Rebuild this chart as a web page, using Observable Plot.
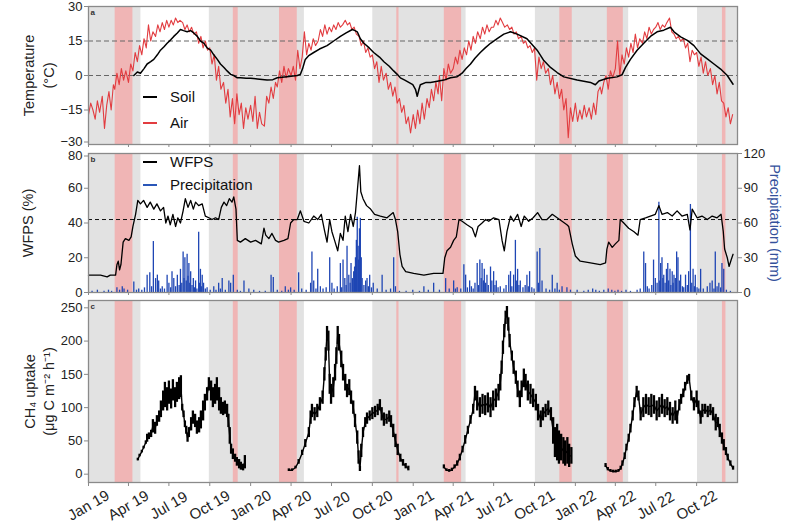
<!DOCTYPE html>
<html><head><meta charset="utf-8">
<script src="https://cdn.jsdelivr.net/npm/d3@7"></script>
<script src="https://cdn.jsdelivr.net/npm/@observablehq/plot@0.6"></script>
<style>
body{margin:0;background:#fff;font-family:"Liberation Sans",Arial,sans-serif;}
#wrap{position:relative;width:800px;height:530px;overflow:hidden;background:#fff;}
.leg{position:absolute;font-size:15px;color:#111;line-height:1;white-space:nowrap;}
.legline{position:absolute;height:0;border-top-style:solid;}
</style></head><body><div id="wrap"></div>
<script>
// ---------- DATA ----------
const grayStart = ["2019-01-01","2019-09-30","2020-10-02","2021-10-03","2022-10-03"];
const grayEnd   = ["2019-04-29","2020-05-01","2021-04-30","2022-05-01","2023-01-01"];
const pinkStart = ["2019-03-02","2019-11-23","2020-03-06","2020-11-25","2021-03-12","2021-11-27","2022-03-14","2022-11-28"];
const pinkEnd   = ["2019-04-11","2019-12-04","2020-04-15","2020-11-30","2021-04-20","2021-12-25","2022-04-19","2022-12-06"];

const tickDates = ["2019-01-01","2019-04-01","2019-07-01","2019-10-01","2020-01-01","2020-04-01","2020-07-01","2020-10-01","2021-01-01","2021-04-01","2021-07-01","2021-10-01","2022-01-01","2022-04-01","2022-07-01","2022-10-01"];
const tickLabels = ["Jan 19","Apr 19","Jul 19","Oct 19","Jan 20","Apr 20","Jul 20","Oct 20","Jan 21","Apr 21","Jul 21","Oct 21","Jan 22","Apr 22","Jul 22","Oct 22"];

// air temperature (°C), 6 readings per month (days 1,6,11,16,21,26)
const air2019 = [-17,-12,-15,-19,-11,-16, -9,-23,-13,-7,-15,-4, -6,1,-4,3,-2,2, -3,5,2,10,6,13, 9,16,12,22,15,19, 17,22,19,23,20,24, 21,24,22,25,23,24, 23,20,22,19,21,18, 19,14,17,12,15,11, 12,5,9,-2,4,-6, -3,-12,-6,-18,-10,-21, -8,-17,-12,-23,-14,-19];
const air2020 = [-13,-20,-9,-23,-16,-21, -22,-9,-12,-5,-10,-3, -5,2,-3,4,-1,3, 0,4,-2,11,3,8, 19,9,14,11,16,13, 15,20,17,22,18,21, 19,22,20,23,21,22, 24,22,23,20,21,18, 17,13,15,10,12,8, 9,3,6,-3,4,-2, 1,-6,-3,-9,-5,-12, -10,-16,-13,-21,-18,-25];
const air2021 = [-17,-23,-15,-21,-12,-19, -10,-14,-6,-11,-3,-8, 0,-11,3,-2,5,1, 3,8,5,11,7,12, 9,15,11,17,14,19, 16,21,18,22,19,21, 21,24,22,25,23,21, 22,20,21,18,19,16, 17,14,15,12,13,10, 12,-2,8,3,6,1, 3,-4,0,-8,-3,-10, -6,-15,-10,-27,-14,-20];
const air2022 = [-12,-20,-15,-19,-13,-18, -14,-19,-12,-17,-7,-5, -8,-3,0,-6,2,-1, 3,15,0,9,5,12, 8,14,10,18,12,16, 14,19,16,21,18,20, 21,23,20,22,21,23, 25,19,18,16,17,15, 16,12,14,6,11,9, 10,4,8,1,6,0, 3,-4,0,-8,-3,-11, -12,-18,-14,-21,-17];

// soil temperature [day since 2019-01-01, °C]
const soil = [[102,0],[110,1.5],[117,1],[125,3],[132,5],[140,6],[147,7],[155,9],[162,11],[170,12.5],[177,14],[185,15.5],[192,17],[200,18.5],[207,20],[214,19.5],[222,19],[230,19.5],[237,18.5],[245,17],[252,15],[260,14],[267,12],[275,11],[282,9],[290,7],[297,5],[305,3.5],[312,2],[320,0.5],[327,0],[335,-1],[342,-1],[355,-1.2],[365,-1.2],[380,-1.5],[402,-2],[415,-1.8],[425,-1],[447,-0.5],[470,0],[477,0.5],[482,3],[488,7],[495,8.5],[507,10],[520,11.5],[537,13],[552,15],[567,17],[580,18.5],[594,20],[600,19.5],[605,19],[612,16],[620,14],[632,12],[642,10],[655,8],[665,6],[677,4],[687,2],[695,0.5],[702,-1],[712,-2],[721,-3],[730,-4],[736,-6],[740,-9],[744,-6],[747,-4],[760,-3],[770,-3],[785,-2.5],[800,-2],[815,-1],[830,-0.5],[841,1],[850,3],[860,5],[870,7.5],[882,10],[893,12],[905,14],[920,16],[935,18],[950,19],[965,18],[987,16],[1010,11],[1025,6.5],[1040,3.5],[1055,1.3],[1070,-0.6],[1100,-2],[1130,-3],[1141,-4],[1149,-2.4],[1168,-1.2],[1190,-0.6],[1201,0.3],[1209,3.5],[1220,7],[1235,11],[1250,14],[1265,17],[1280,19],[1295,19.7],[1310,21],[1318,19],[1333,16.8],[1348,15.3],[1363,13],[1378,9.4],[1393,7.2],[1408,5],[1423,2.8],[1438,0],[1451,-3.8]];

// WFPS (%) [day, value]
const wfps = [[0,10],[27,10],[42,9],[49,10],[61,10],[64,16],[67,18],[70,13],[73,16],[78,29],[83,31],[91,30],[96,32],[100,38],[106,45],[111,53],[117,51],[124,53],[132,49],[139,52],[147,48],[154,51],[162,47],[169,49],[174,40],[179,44],[184,39],[190,45],[196,38],[201,43],[207,40],[213,47],[218,54],[224,49],[230,53],[236,48],[241,52],[248,50],[256,51],[263,44],[271,43],[278,42],[286,43],[293,42],[299,49],[305,52],[311,50],[317,54],[323,52],[327,55],[332,48],[335,30],[342,29],[353,31],[365,29],[376,30],[389,28],[395,37],[399,33],[406,31],[413,34],[421,30],[428,29],[440,30],[449,31],[455,40],[462,42],[470,42],[477,47],[485,41],[496,40],[507,44],[516,42],[524,45],[531,36],[537,29],[543,42],[548,35],[554,30],[561,24],[567,34],[573,30],[578,44],[584,35],[590,45],[596,38],[601,46],[605,58],[610,73],[613,58],[618,54],[626,50],[635,48],[644,45],[657,44],[672,43],[686,46],[691,42],[696,35],[701,22],[706,15],[714,12],[732,11],[755,10],[777,11],[798,11],[802,20],[807,24],[815,26],[822,30],[828,32],[834,42],[841,41],[852,39],[864,37],[871,32],[877,38],[886,40],[894,42],[901,41],[912,43],[924,42],[931,30],[936,24],[942,35],[950,44],[957,41],[966,45],[974,38],[981,44],[991,41],[1001,43],[1011,46],[1021,42],[1032,42],[1044,45],[1055,43],[1066,41],[1077,39],[1081,38],[1089,28],[1096,21],[1107,18],[1130,17],[1152,16],[1164,17],[1167,25],[1171,29],[1179,26],[1186,28],[1194,30],[1197,42],[1205,40],[1216,37],[1228,35],[1237,33],[1242,42],[1254,43],[1265,44],[1276,45],[1284,50],[1291,45],[1303,46],[1314,44],[1325,47],[1336,44],[1348,45],[1354,36],[1359,48],[1370,43],[1381,44],[1393,42],[1404,44],[1415,43],[1424,45],[1429,35],[1432,25],[1438,20],[1442,15],[1447,19],[1451,22]];

// precipitation (mm) [day, mm]
const precip = [[8,1],[20,2],[35,1],[45,2],[52,1],[64,4],[70,2],[76,5],[80,3],[88,2],[102,9],[108,2],[113,3],[120,2],[126,4],[132,15],[138,17],[142,5],[146,44],[151,12],[155,15],[158,10],[162,3],[166,5],[171,3],[177,15],[181,8],[185,4],[188,18],[192,12],[196,5],[200,15],[204,6],[207,20],[210,8],[213,35],[215,12],[217,30],[220,10],[222,33],[224,14],[226,25],[228,8],[230,18],[233,6],[236,12],[239,4],[241,10],[244,3],[248,52],[250,8],[252,20],[254,5],[256,15],[259,8],[263,3],[267,4],[274,2],[282,5],[287,2],[293,8],[297,3],[301,12],[308,2],[316,10],[320,8],[326,15],[335,2],[342,1],[350,10],[361,3],
[372,2],[385,1],[398,1],[411,15],[416,13],[425,2],[435,1],[443,5],[450,2],[455,4],[463,2],[473,17],[480,3],[490,2],[500,8],[503,35],[507,10],[512,3],[516,20],[522,5],[528,3],[535,4],[543,30],[548,8],[553,3],[560,5],[567,25],[570,4],[573,28],[577,12],[580,6],[582,40],[586,15],[589,8],[591,25],[594,12],[597,18],[599,22],[601,30],[603,45],[605,65],[607,40],[608,28],[610,55],[612,64],[614,30],[616,12],[620,6],[624,10],[627,12],[630,5],[633,15],[637,4],[641,8],[650,3],[661,15],[670,2],[680,3],[687,30],[691,5],[700,1],[715,1],[730,2],
[745,1],[755,5],[765,2],[777,8],[790,2],[804,12],[812,3],[822,10],[826,3],[830,4],[838,3],[845,24],[849,15],[853,4],[858,10],[862,5],[866,3],[870,8],[875,25],[878,6],[881,28],[884,12],[886,25],[889,10],[891,20],[894,8],[897,15],[900,6],[905,22],[908,10],[912,18],[915,6],[918,10],[922,4],[927,5],[935,3],[940,6],[946,15],[950,18],[953,5],[957,15],[961,45],[964,10],[966,20],[969,6],[972,10],[978,4],[983,6],[987,15],[990,5],[993,18],[998,4],[1003,3],[1010,35],[1013,8],[1016,38],[1021,10],[1030,3],[1038,2],[1044,15],[1050,3],[1055,8],[1060,2],[1066,5],[1077,4],[1085,2],
[1100,2],[1115,1],[1125,2],[1135,3],[1142,2],[1150,1],[1160,2],[1170,3],[1178,2],[1185,1],[1192,2],[1200,1],[1210,2],[1220,1],[1235,2],[1242,3],[1250,35],[1254,25],[1258,5],[1262,3],[1268,6],[1272,28],[1276,12],[1280,8],[1284,78],[1286,10],[1288,25],[1291,30],[1293,12],[1295,15],[1298,8],[1301,20],[1304,25],[1306,10],[1309,20],[1311,6],[1314,18],[1316,8],[1318,15],[1321,12],[1324,35],[1327,30],[1330,10],[1333,15],[1337,5],[1340,4],[1344,15],[1348,6],[1351,18],[1355,76],[1358,8],[1361,20],[1364,5],[1366,15],[1370,4],[1374,3],[1378,20],[1384,3],[1393,5],[1399,8],[1404,10],[1408,3],[1411,35],[1415,5],[1419,8],[1423,4],[1426,25],[1430,20],[1436,2],[1445,1]];

// CH4 uptake (µg C m-2 h-1) per season [day, low, high]
const ch4_2019 = [[111,20,24],[115,26,30],[120,32,36],[124,38,42],[129,45,50],[132,48,60],[136,52,62],[141,55,66],[145,62,82],[150,60,78],[154,72,88],[159,78,95],[163,85,110],[168,95,125],[172,100,138],[177,95,130],[181,105,140],[186,98,128],[190,110,142],[195,100,130],[199,108,138],[204,112,145],[208,115,148],[211,95,105],[214,85,95],[217,70,80],[220,60,72],[223,48,62],[226,55,70],[231,65,85],[235,75,95],[240,70,90],[244,60,80],[249,62,85],[253,68,95],[258,80,110],[262,95,120],[267,110,130],[271,125,145],[276,110,140],[280,100,130],[285,105,135],[289,110,145],[294,95,130],[298,90,115],[303,88,108],[307,90,110],[312,85,105],[315,70,90],[318,45,70],[321,30,45],[325,22,38],[330,18,30],[334,12,25],[339,8,22],[343,6,18],[348,5,15],[352,8,28]];
const ch4_2020 = [[451,4,8],[458,4,8],[466,8,12],[473,15,22],[481,28,36],[488,40,52],[496,55,70],[500,75,95],[503,85,105],[509,80,100],[515,85,105],[521,95,115],[527,105,125],[531,140,160],[534,170,190],[537,200,222],[540,185,215],[543,120,150],[546,105,135],[551,115,145],[555,140,165],[558,165,190],[561,195,222],[564,185,210],[569,160,185],[573,140,165],[578,125,150],[582,115,135],[587,118,142],[591,105,125],[596,90,110],[600,70,90],[605,45,65],[608,15,35],[611,4,12],[614,25,45],[618,55,70],[623,70,85],[627,75,92],[633,80,95],[639,82,100],[645,85,102],[651,88,105],[656,95,112],[660,80,100],[665,72,92],[671,75,90],[677,78,95],[681,70,88],[686,55,75],[691,40,60],[696,28,45],[702,18,30],[708,12,22],[714,8,16],[720,5,12]];
const ch4_2021 = [[800,8,14],[806,4,8],[812,3,7],[818,4,9],[824,8,14],[830,12,20],[836,20,30],[842,32,42],[848,45,58],[854,60,72],[860,75,88],[866,90,105],[870,110,132],[875,95,125],[881,85,115],[887,90,120],[893,88,118],[899,92,122],[905,85,115],[911,95,125],[917,100,128],[923,110,135],[927,125,150],[930,150,170],[933,180,200],[936,205,225],[939,225,245],[942,235,252],[945,215,235],[948,190,210],[953,170,185],[957,150,170],[962,135,155],[966,115,140],[971,100,125],[975,115,140],[980,130,158],[984,125,150],[989,110,140],[995,105,135],[1001,100,128],[1007,95,120],[1012,80,105],[1018,70,95],[1023,80,100],[1029,85,105],[1035,88,110],[1041,80,100],[1046,45,85],[1050,25,70],[1055,20,75],[1059,15,65],[1064,20,60],[1069,15,55],[1073,12,50],[1078,15,55],[1082,10,45],[1087,15,40]];
const ch4_2022 = [[1164,10,16],[1169,5,10],[1175,3,7],[1181,2,6],[1187,2,6],[1193,3,7],[1198,6,12],[1202,12,20],[1207,22,32],[1211,35,45],[1216,48,60],[1220,62,75],[1225,80,95],[1229,100,115],[1234,115,132],[1238,110,125],[1243,80,100],[1249,85,115],[1255,90,120],[1261,88,115],[1267,85,120],[1273,90,118],[1279,80,110],[1285,85,115],[1291,90,120],[1297,85,112],[1303,88,115],[1309,80,108],[1315,75,100],[1321,80,110],[1325,75,95],[1330,95,112],[1334,105,120],[1339,115,128],[1343,125,138],[1348,135,148],[1352,140,150],[1357,110,125],[1363,95,115],[1369,100,125],[1373,90,110],[1378,75,95],[1382,85,105],[1388,90,105],[1394,85,102],[1400,88,105],[1406,80,100],[1412,65,90],[1417,70,85],[1421,55,75],[1426,45,62],[1430,35,52],[1435,28,40],[1439,20,30],[1445,12,20],[1451,6,12]];

// ---------- BUILD ----------
const T0 = Date.UTC(2019,0,1);
const dayDate = d => new Date(T0 + d*864e5);
const airYears = [2019,2020,2021,2022];
const airSets = [air2019,air2020,air2021,air2022];
const airData = [];
airYears.forEach((y,k) => airSets[k].forEach((v,j) => airData.push({date:new Date(Date.UTC(y, Math.floor(j/6), 1+5*(j%6))), t:v})));
const soilData = soil.map(([d,t]) => ({date:dayDate(d), t}));
const wfpsData = wfps.map(([d,v]) => ({date:dayDate(d), v}));
const precipData = precip.map(([d,mm]) => ({date:dayDate(d), mm}));
const ch4Data = [];
[ch4_2019, ch4_2020, ch4_2021, ch4_2022].forEach((arr, s) => arr.forEach(([d,lo,hi]) => ch4Data.push({date:dayDate(d), lo, hi, mid:(lo+hi)/2, season:s})));
const grayBands = grayStart.map((s,i) => ({x1:new Date(s), x2:new Date(grayEnd[i])}));
const pinkBands = pinkStart.map((s,i) => ({x1:new Date(s), x2:new Date(pinkEnd[i])}));
const ticks = tickDates.map(s => new Date(s));
const tickRows = ticks.map((d,i) => ({date:d, label:tickLabels[i]}));

const FONT = "'Liberation Sans', Arial, sans-serif";
const FRAME = "#8a8a8a";
const TXT = "#222";
const xScale = {type: "utc", domain: [new Date("2019-01-01"), new Date("2023-01-01")], label: null};
const common = {
  width: 800, marginLeft: 88, marginRight: 63,
  x: xScale,
  style: {fontFamily: FONT, fontSize: "13px", background: "transparent", overflow: "visible", color: TXT}
};
const bands = () => [
  Plot.rect(grayBands, {x1: "x1", x2: "x2", fill: "#e2e2e2"}),
  Plot.rect(pinkBands, {x1: "x1", x2: "x2", fill: "#f0b5b5"})
];
const xTicksOnly = (size) => Plot.axisX({ticks: ticks, tickFormat: () => "", tickSize: size, stroke: FRAME});
const yAxis = (tickList, extra = {}) => Plot.axisY({ticks: tickList, tickSize: 4, tickPadding: 2, stroke: FRAME, fill: TXT, fontSize: 13, ...extra});

const wrap = document.getElementById("wrap");
function place(el, top) {
  el.style.position = "absolute"; el.style.left = "0px"; el.style.top = top + "px";
  wrap.appendChild(el);
}

// Panel a
const pa = Plot.plot({...common, height: 148, marginTop: 6, marginBottom: 4,
  y: {domain: [-30, 30], label: null},
  marks: [
    ...bands(),
    Plot.ruleY([15, 0], {stroke: "#666", strokeDasharray: "5,3", strokeWidth: 1}),
    Plot.line(airData, {x: "date", y: "t", stroke: "#e23c40", strokeWidth: 1.1}),
    Plot.line(soilData, {x: "date", y: "t", stroke: "#000", strokeWidth: 1.5}),
    yAxis([-15, 0, 15, 30]),
    yAxis([-30], {dy: -2.5}),
    xTicksOnly(3),
    Plot.frame({stroke: FRAME, strokeWidth: 1.3}),
    Plot.text(["a"], {frameAnchor: "top-left", dx: 2, dy: 3, lineAnchor: "top", fontWeight: "bold", fontSize: 8, fill: "#333"}),
    Plot.text(["Temperature\n(°C)"], {frameAnchor: "left", dx: -51, rotate: -90, textAnchor: "middle", lineAnchor: "middle", fontSize: 14.5, lineHeight: 1.38, fill: TXT})
  ]});
place(pa, 0);

// Panel b: precipitation layer (right axis)
const pbp = Plot.plot({...common, height: 150, marginTop: 5, marginBottom: 6,
  y: {domain: [0, 120], label: null},
  marks: [
    ...bands(),
    Plot.ruleX(precipData, {x: "date", y1: 0, y2: "mm", stroke: "#1f46b4", strokeWidth: 1.3}),
    yAxis([0, 30, 60, 90, 120], {anchor: "right"}),
    xTicksOnly(3),
    Plot.text(["Precipitation (mm)"], {frameAnchor: "right", dx: 37, rotate: 90, textAnchor: "middle", lineAnchor: "middle", fontSize: 14.5, fill: "#34519c"})
  ]});
place(pbp, 148);

// Panel b: WFPS layer (left axis)
const pbw = Plot.plot({...common, height: 150, marginTop: 5, marginBottom: 6,
  x: {...xScale, axis: null},
  y: {domain: [0, 80], label: null},
  marks: [
    Plot.ruleY([42], {stroke: "#111", strokeDasharray: "4,3", strokeWidth: 1}),
    Plot.line(wfpsData, {x: "date", y: "v", stroke: "#000", strokeWidth: 1.3}),
    yAxis([0, 20, 40, 60]),
    yAxis([80], {dy: 2.5}),
    Plot.frame({stroke: FRAME, strokeWidth: 1.3}),
    Plot.text(["b"], {frameAnchor: "top-left", dx: 2, dy: 3, lineAnchor: "top", fontWeight: "bold", fontSize: 8, fill: "#333"}),
    Plot.text(["WFPS (%)"], {frameAnchor: "left", dx: -60, rotate: -90, textAnchor: "middle", lineAnchor: "middle", fontSize: 14.5, fill: TXT})
  ]});
place(pbw, 148);

// Panel c
const pc = Plot.plot({...common, height: 234, marginTop: 4, marginBottom: 48,
  y: {domain: [-12.5, 261], label: null},
  marks: [
    ...bands(),
    Plot.line(ch4Data, {x: "date", y: "mid", z: "season", stroke: "#000", strokeWidth: 1.4}),
    Plot.ruleX(ch4Data, {x: "date", y1: "lo", y2: "hi", stroke: "#000", strokeWidth: 2.3}),
    yAxis([0, 50, 100, 150, 200, 250]),
    xTicksOnly(4),
    Plot.text(tickRows, {x: "date", text: "label", frameAnchor: "bottom", dy: 23, rotate: -30, fontSize: 15, textAnchor: "middle", lineAnchor: "middle", fill: TXT}),
    Plot.frame({stroke: FRAME, strokeWidth: 1.3}),
    Plot.text(["c"], {frameAnchor: "top-left", dx: 2, dy: 3, lineAnchor: "top", fontWeight: "bold", fontSize: 8, fill: "#333"}),
    Plot.text(["CH₄ uptake\n(μg C m⁻² h⁻¹)"], {frameAnchor: "left", dx: -50, rotate: -90, textAnchor: "middle", lineAnchor: "middle", fontSize: 14.5, lineHeight: 1.3, fill: TXT})
  ]});
place(pc, 296);

// Legends
function legend(y, color, label) {
  const l = document.createElement("div");
  l.className = "legline";
  l.style.left = "143px"; l.style.width = "14px"; l.style.top = (y - 1.25) + "px";
  l.style.borderTopWidth = "2.5px"; l.style.borderTopColor = color;
  wrap.appendChild(l);
  const t = document.createElement("div");
  t.className = "leg"; t.textContent = label;
  t.style.left = "170px"; t.style.top = (y - 8) + "px";
  wrap.appendChild(t);
}
legend(97, "#000", "Soil");
legend(123, "#e23c40", "Air");
legend(162, "#000", "WFPS");
legend(185, "#2a56b8", "Precipitation");
</script></body></html>
